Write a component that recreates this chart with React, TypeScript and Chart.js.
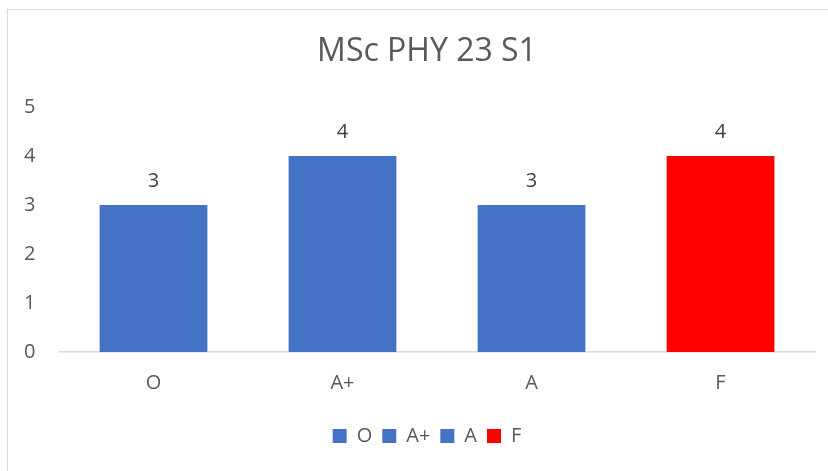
import React, { useEffect, useRef } from "react";
import { Chart, registerables } from "chart.js";

Chart.register(...registerables);

const chartTitle = "MSc PHY 23 S1";
const categories = ["O", "A+", "A", "F"];
const counts = [3, 4, 3, 4];
const barColors = ["#4472C4", "#4472C4", "#4472C4", "#FF0000"];
const yTicks = [0, 1, 2, 3, 4, 5];

const FONT = "'Open Sans', 'Noto Sans', sans-serif";
const TEXT = "#595959";

const dataLabelPlugin = {
  id: "dataLabels",
  afterDatasetsDraw(chart: any) {
    const { ctx } = chart;
    const meta = chart.getDatasetMeta(0);
    ctx.save();
    ctx.font = `20px ${FONT}`;
    ctx.fillStyle = "#404040";
    ctx.textAlign = "center";
    ctx.textBaseline = "middle";
    meta.data.forEach((bar: any, i: number) => {
      ctx.fillText(String(counts[i]), bar.x, bar.y - 24);
    });
    ctx.restore();
  },
};

export default function App() {
  const ref = useRef<HTMLCanvasElement>(null);

  useEffect(() => {
    if (!ref.current) return;
    const chart = new Chart(ref.current, {
      type: "bar",
      data: {
        labels: categories,
        datasets: [
          {
            label: "Count",
            data: counts,
            backgroundColor: barColors,
            barPercentage: 0.57,
            categoryPercentage: 1,
          },
        ],
      },
      options: {
        animation: false,
        responsive: false,
        maintainAspectRatio: false,
        layout: { padding: { left: 39, right: 13, top: 0, bottom: 15 } },
        scales: {
          x: {
            grid: { display: false, drawTicks: false },
            border: { display: true, color: "#d9d9d9", width: 1.5 },
            ticks: { color: TEXT, font: { family: FONT, size: 20 }, padding: 19 },
            afterFit: (s: any) => {
              s.height = 64;
            },
          },
          y: {
            min: 0,
            max: 5,
            grid: { display: false, drawTicks: false },
            border: { display: false },
            ticks: {
              stepSize: 1,
              color: TEXT,
              font: { family: FONT, size: 20 },
              mirror: true,
              crossAlign: "near",
              padding: -35,
            },
            afterBuildTicks: (s: any) => {
              s.ticks = yTicks.map((v) => ({ value: v }));
            },
            afterFit: (s: any) => {
              s.width = 20;
            },
          },
        },
        plugins: {
          title: {
            display: true,
            text: chartTitle,
            color: TEXT,
            font: { family: FONT, size: 32, weight: "normal" },
            padding: { top: 32.8, bottom: 35.8 },
          },
          legend: {
            position: "bottom",
            onClick: () => {},
            labels: {
              boxWidth: 14,
              boxHeight: 14,
              padding: 10,
              color: TEXT,
              font: { family: FONT, size: 20 },
              generateLabels: () =>
                categories.map((c, i) => ({
                  text: c,
                  fillStyle: barColors[i],
                  strokeStyle: barColors[i],
                  lineWidth: 0,
                  hidden: false,
                  index: i,
                  datasetIndex: 0,
                  fontColor: TEXT,
                })),
            },
          },
          tooltip: { enabled: false },
        },
      } as any,
      plugins: [dataLabelPlugin],
    });
    return () => chart.destroy();
  }, []);

  return (
    <div
      style={{
        position: "absolute",
        left: 0,
        top: 0,
        width: 828,
        height: 471,
        overflow: "hidden",
        background: "#ffffff",
      }}
    >
      <div
        style={{
          position: "absolute",
          left: 7,
          top: 9,
          width: 900,
          height: 600,
          borderLeft: "1px solid #d9d9d9",
          borderTop: "1px solid #d9d9d9",
        }}
      />
      <canvas
        ref={ref}
        width={828}
        height={471}
        style={{ position: "absolute", left: 0, top: 0, width: 828, height: 471, display: "block" }}
      />
    </div>
  );
}
